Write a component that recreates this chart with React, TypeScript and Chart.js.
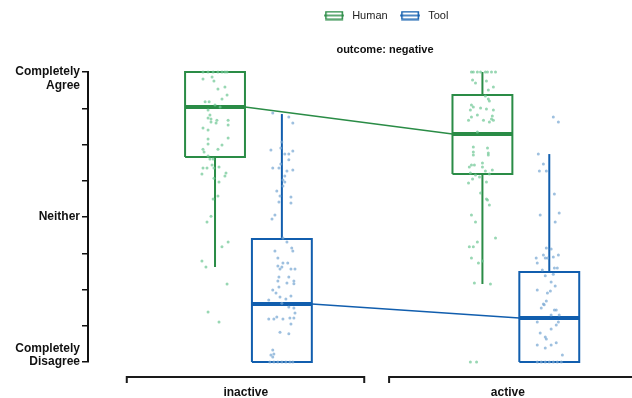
import React, { useEffect, useRef } from 'react';
import { Chart, registerables } from 'chart.js';
Chart.register(...registerables);

const categories = ['inactive', 'active'];
const categoryLabelPos = [-0.01, 0.97];
const bracketRanges = [[-0.455, 0.433], [0.526, 1.45]];
const seriesNames = ['Human', 'Tool'];
const seriesOffsets = [-0.125, 0.125];
const boxHalfWidth = 0.112;
const seriesColors = ['#2a8c46', '#115eae'];
const pointColors = ['rgba(112,200,150,0.72)', 'rgba(120,168,210,0.72)'];
const titleText = 'outcome: negative';

// [whiskerLow, q1, median, q3, whiskerHigh] per category (inactive, active)
const humanStats = [
  [32.8, 70.7, 87.9, 100, 100],
  [26.9, 64.8, 78.6, 92.1, 100],
];
const toolStats = [
  [0, 0, 20, 42.4, 85.5],
  [0, 0, 15.2, 31.0, 71.7],
];

// [jitter, score]
const humanInactive = [
  [-0.045, 100], [-0.026, 100], [-0.007, 100], [0.011, 100], [0.026, 100], [0.037, 100], [0.045, 100],
  [-0.045, 97.6], [-0.011, 98.3], [-0.004, 96.9], [0.011, 94.1], [0.037, 94.8], [0.045, 92.1], [0.026, 90.7],
  [-0.037, 89.7], [-0.022, 89.7], [0, 88.6], [0.019, 87.9], [-0.026, 86.9], [-0.019, 85.2], [-0.026, 84.1],
  [-0.015, 83.8], [-0.015, 82.8], [0.007, 83.4], [0.004, 82.4], [0.049, 83.4], [0.049, 81.7], [-0.045, 80.7],
  [-0.026, 80.0], [0.049, 77.2], [-0.026, 76.9], [-0.026, 75.2], [0.026, 74.8], [0.011, 73.4], [-0.045, 73.4],
  [-0.041, 72.4], [-0.026, 71.0], [-0.019, 70.0], [-0.007, 70.0], [-0.045, 66.9], [-0.030, 66.9], [-0.011, 67.9],
  [-0.004, 66.9], [0.015, 67.2], [-0.049, 64.8], [0.041, 65.2], [0.037, 64.1], [-0.004, 63.4], [0.015, 62.1],
  [0.011, 57.2], [-0.007, 56.2], [-0.015, 50.3], [-0.030, 48.3], [0.049, 41.4], [0.026, 39.7], [-0.049, 34.8],
  [-0.034, 32.8], [0.045, 26.9], [-0.026, 17.2], [0.015, 13.8],
];
const toolInactive = [
  [-0.034, 85.9], [0.026, 84.5], [0.041, 82.4], [0, 75.9], [-0.041, 73.1], [-0.004, 73.8], [0.011, 71.7],
  [0.026, 71.7], [0.041, 72.8], [0.026, 69.7], [-0.004, 68.3], [-0.034, 66.9], [-0.011, 66.9], [0.019, 65.9],
  [0.041, 66.2], [0.011, 64.1], [0.004, 62.8], [0.011, 62.1], [0.004, 60.7], [-0.019, 59.0], [-0.007, 57.2],
  [0.034, 56.9], [-0.011, 55.2], [0.034, 54.8], [-0.026, 50.7], [-0.037, 49.3], [0.004, 42.8], [0.019, 41.4],
  [0.037, 39.3], [0.041, 38.3], [-0.026, 38.3], [-0.015, 35.9], [0.004, 34.1], [0.022, 34.1], [-0.015, 33.1],
  [0, 32.8], [-0.007, 32.1], [0.034, 32.1], [0.049, 32.1], [-0.011, 29.3], [0.026, 29.3], [-0.015, 27.9],
  [0.019, 27.2], [0.045, 27.9], [0.045, 27.0], [-0.011, 25.9], [-0.034, 24.8], [-0.022, 23.8], [0.034, 22.8],
  [-0.007, 22.4], [0.015, 21.7], [-0.049, 21.4], [0, 20.3], [0.026, 19.0], [0.045, 18.6], [0.049, 16.9],
  [-0.019, 15.5], [-0.049, 14.8], [-0.030, 14.8], [0.004, 14.8], [0.030, 15.2], [0.045, 15.2], [0.034, 13.1],
  [-0.007, 10.3], [0.026, 9.7], [-0.034, 4.1], [-0.030, 2.8], [-0.041, 2.4], [-0.034, 1.7],
  [-0.045, 0], [-0.030, 0], [-0.015, 0], [0, 0], [0.015, 0], [0.030, 0], [0.041, 0],
];
const humanActive = [
  [-0.041, 100], [-0.034, 100], [-0.019, 100], [-0.007, 100], [0.011, 100], [0.019, 100], [0.034, 100], [0.049, 100],
  [-0.037, 97.2], [-0.026, 96.2], [0.015, 96.9], [0.041, 94.8], [0.022, 93.8], [0.011, 91.7], [0.022, 90.7],
  [0.026, 90.0], [-0.041, 88.6], [-0.034, 87.9], [-0.007, 87.6], [0.015, 87.2], [0.041, 86.9], [-0.045, 86.9],
  [-0.019, 85.2], [0.037, 84.8], [0.034, 83.8], [-0.041, 84.5], [-0.052, 83.4], [0.004, 83.4], [0.026, 82.8],
  [0.041, 83.4], [-0.019, 79.3], [-0.034, 74.1], [0.019, 73.8], [-0.034, 72.4], [0.022, 72.1], [-0.034, 71.4],
  [0.022, 71.4], [0, 68.6], [-0.041, 67.9], [-0.030, 67.9], [-0.049, 67.2], [0, 67.2], [0.011, 65.9],
  [0.037, 66.2], [0.026, 64.8], [-0.045, 65.2], [-0.026, 64.5], [-0.011, 63.8], [-0.037, 63.1], [0.015, 62.1],
  [-0.052, 61.7], [-0.007, 58.3], [0.015, 56.2], [0.019, 55.9], [0.026, 54.1], [-0.041, 50.7], [-0.026, 48.3],
  [0.049, 42.8], [-0.019, 41.4], [-0.049, 39.7], [-0.034, 39.7], [-0.041, 35.9], [-0.015, 34.1], [0, 34.8],
  [-0.030, 27.2], [0.030, 26.9], [-0.045, 0], [-0.022, 0],
];
const toolActive = [
  [0.015, 84.5], [0.034, 82.8], [-0.041, 71.7], [-0.022, 68.3], [-0.037, 65.9], [-0.011, 65.9], [0.019, 57.9],
  [-0.034, 50.7], [0.037, 51.4], [0.022, 48.3], [-0.011, 39.3], [0.007, 39.0], [-0.022, 36.9], [-0.049, 35.9],
  [-0.015, 35.9], [-0.007, 35.9], [0.015, 36.2], [0.034, 36.9], [-0.045, 34.1], [-0.026, 31.7], [0.019, 32.4],
  [0.030, 32.4], [-0.015, 29.7], [0.015, 30.3], [0.007, 27.6], [0.022, 26.2], [-0.045, 24.8], [0.004, 24.5],
  [-0.007, 23.8], [-0.011, 21.0], [-0.022, 20.0], [-0.019, 19.7], [-0.030, 18.6], [0.019, 17.9], [0.026, 17.9],
  [0.007, 16.2], [0.037, 16.2], [-0.045, 13.8], [0.034, 13.8], [0.026, 12.8], [0.007, 11.4], [-0.034, 10.0],
  [-0.015, 8.6], [-0.011, 7.9], [-0.045, 5.9], [0.026, 6.6], [0.007, 5.9], [-0.015, 4.8], [0.049, 2.4],
  [-0.045, 0], [-0.030, 0], [-0.015, 0], [0, 0], [0.015, 0], [0.030, 0], [0.045, 0],
];

const seriesStats = [humanStats, toolStats];
const seriesPoints = [[humanInactive, humanActive], [toolInactive, toolActive]];

function yLabel(v: number): string | string[] {
  if (v === 100) return ['', 'Completely', 'Agree'];
  if (v === 50) return 'Neither';
  if (v === 0) return ['Completely', 'Disagree', ''];
  return '';
}

function makeIcon(color: string) {
  const c = document.createElement('canvas');
  c.width = 20;
  c.height = 10;
  const g = c.getContext('2d')!;
  g.strokeStyle = color;
  g.lineWidth = 1.5;
  g.strokeRect(1.75, 1.25, 16.5, 7.5);
  g.beginPath();
  g.moveTo(0, 5);
  g.lineTo(20, 5);
  g.stroke();
  return c;
}

const bracketPlugin = {
  id: 'brackets',
  afterDraw(chart: any) {
    const xs = chart.scales.x;
    const ctx = chart.ctx;
    const y0 = chart.chartArea.bottom + 15;
    ctx.save();
    ctx.strokeStyle = '#1a1a1a';
    ctx.lineWidth = 2;
    bracketRanges.forEach(([a, b]) => {
      const l = xs.getPixelForValue(a);
      const r = xs.getPixelForValue(b);
      ctx.beginPath();
      ctx.moveTo(l, y0 + 6);
      ctx.lineTo(l, y0);
      ctx.lineTo(r, y0);
      ctx.lineTo(r, y0 + 6);
      ctx.stroke();
    });
    ctx.restore();
  },
};

export default function App() {
  const ref = useRef<HTMLCanvasElement>(null);
  useEffect(() => {
    if (!ref.current) return;
    Chart.defaults.font.family = '"Liberation Sans", Arial, Helvetica, sans-serif';
    const icons = seriesColors.map(makeIcon);
    const datasets: any[] = [];
    const lineBase = { type: 'line', pointRadius: 0, pointHoverRadius: 0, fill: false, clip: false, order: 1, tension: 0 };
    seriesNames.forEach((name, s) => {
      const color = seriesColors[s];
      const stats = seriesStats[s];
      categories.forEach((cat, c) => {
        datasets.push({
          type: 'line',
          label: `${name} ${cat} points`,
          showLine: false,
          data: seriesPoints[s][c].map(([j, v]) => ({ x: c + seriesOffsets[s] + j, y: v })),
          pointRadius: 1.5,
          pointHoverRadius: 1.5,
          pointBorderWidth: 0,
          pointBackgroundColor: pointColors[s],
          pointBorderColor: pointColors[s],
          clip: false,
          order: 0,
        });
      });
      categories.forEach((cat, c) => {
        const [wl, q1, med, q3, wh] = stats[c];
        const cx = c + seriesOffsets[s];
        const l = cx - boxHalfWidth;
        const r = cx + boxHalfWidth;
        datasets.push({
          ...lineBase,
          label: `${name} ${cat} box`,
          data: [{ x: l, y: q1 }, { x: r, y: q1 }, { x: r, y: q3 }, { x: l, y: q3 }, { x: l, y: q1 }],
          borderColor: color,
          borderWidth: 2,
          borderJoinStyle: 'miter',
        });
        datasets.push({
          ...lineBase,
          label: `${name} ${cat} median`,
          data: [{ x: l, y: med }, { x: r, y: med }],
          borderColor: color,
          borderWidth: 4,
          borderCapStyle: 'butt',
        });
        if (wh > q3) {
          datasets.push({
            ...lineBase,
            label: `${name} ${cat} whisker hi`,
            data: [{ x: cx, y: q3 }, { x: cx, y: wh }],
            borderColor: color,
            borderWidth: 2,
          });
        }
        if (wl < q1) {
          datasets.push({
            ...lineBase,
            label: `${name} ${cat} whisker lo`,
            data: [{ x: cx, y: q1 }, { x: cx, y: wl }],
            borderColor: color,
            borderWidth: 2,
          });
        }
      });
      datasets.push({
        ...lineBase,
        label: `${name} median link`,
        data: [
          { x: 0 + seriesOffsets[s] + boxHalfWidth, y: stats[0][2] },
          { x: 1 + seriesOffsets[s] - boxHalfWidth, y: stats[1][2] },
        ],
        borderColor: color,
        borderWidth: 1.5,
      });
    });

    const chart = new Chart(ref.current, {
      type: 'line',
      data: { datasets },
      plugins: [bracketPlugin],
      options: {
        animation: false,
        responsive: false,
        events: [],
        layout: { padding: 0 },
        plugins: {
          tooltip: { enabled: false },
          legend: {
            display: true,
            position: 'top',
            weight: 3000,
            labels: {
              usePointStyle: true,
              pointStyleWidth: 25,
              padding: 10,
              color: '#222',
              font: { size: 11 },
              generateLabels: () =>
                seriesNames.map((n, i) => ({
                  text: n,
                  pointStyle: icons[i],
                  fillStyle: 'rgba(0,0,0,0)',
                  strokeStyle: seriesColors[i],
                  lineWidth: 0,
                  hidden: false,
                  datasetIndex: i,
                  fontColor: '#222',
                })),
            },
          },
          title: {
            display: true,
            text: titleText,
            color: '#111',
            weight: 2000,
            font: { size: 11, weight: 'bold' },
            padding: { top: 12, bottom: 15.8 },
          },
        },
        scales: {
          x: {
            type: 'linear',
            min: -0.6,
            max: 1.9448,
            grid: { display: false, drawTicks: false },
            border: { display: false },
            ticks: {
              color: '#111',
              font: { size: 12, weight: 'bold' },
              padding: 23,
              maxRotation: 0,
              autoSkip: false,
              callback: (_v: any, i: number) => categories[i] ?? '',
            },
            afterBuildTicks: (s: any) => {
              s.ticks = categoryLabelPos.map((v) => ({ value: v }));
            },
            afterFit: (s: any) => {
              s.height = 36;
            },
          },
          y: {
            type: 'linear',
            min: 0,
            max: 100,
            grid: { drawOnChartArea: false, drawTicks: true, tickLength: 6, color: '#111', lineWidth: 1.5 },
            border: { display: true, color: '#111', width: 2 },
            ticks: {
              stepSize: 12.5,
              autoSkip: false,
              color: '#111',
              padding: 2,
              font: { size: 12, weight: 'bold', lineHeight: 1.1 },
              callback: (v: any) => yLabel(Number(v)),
            },
            afterFit: (s: any) => {
              s.width = 88;
            },
          },
        },
      } as any,
    } as any);
    return () => chart.destroy();
  }, []);
  return (
    <div style={{ position: 'fixed', left: 0, top: 0, width: 632, height: 398, overflow: 'hidden', background: '#fff' }}>
      <canvas ref={ref} width={770} height={398} style={{ width: 770, height: 398, display: 'block' }} />
    </div>
  );
}
